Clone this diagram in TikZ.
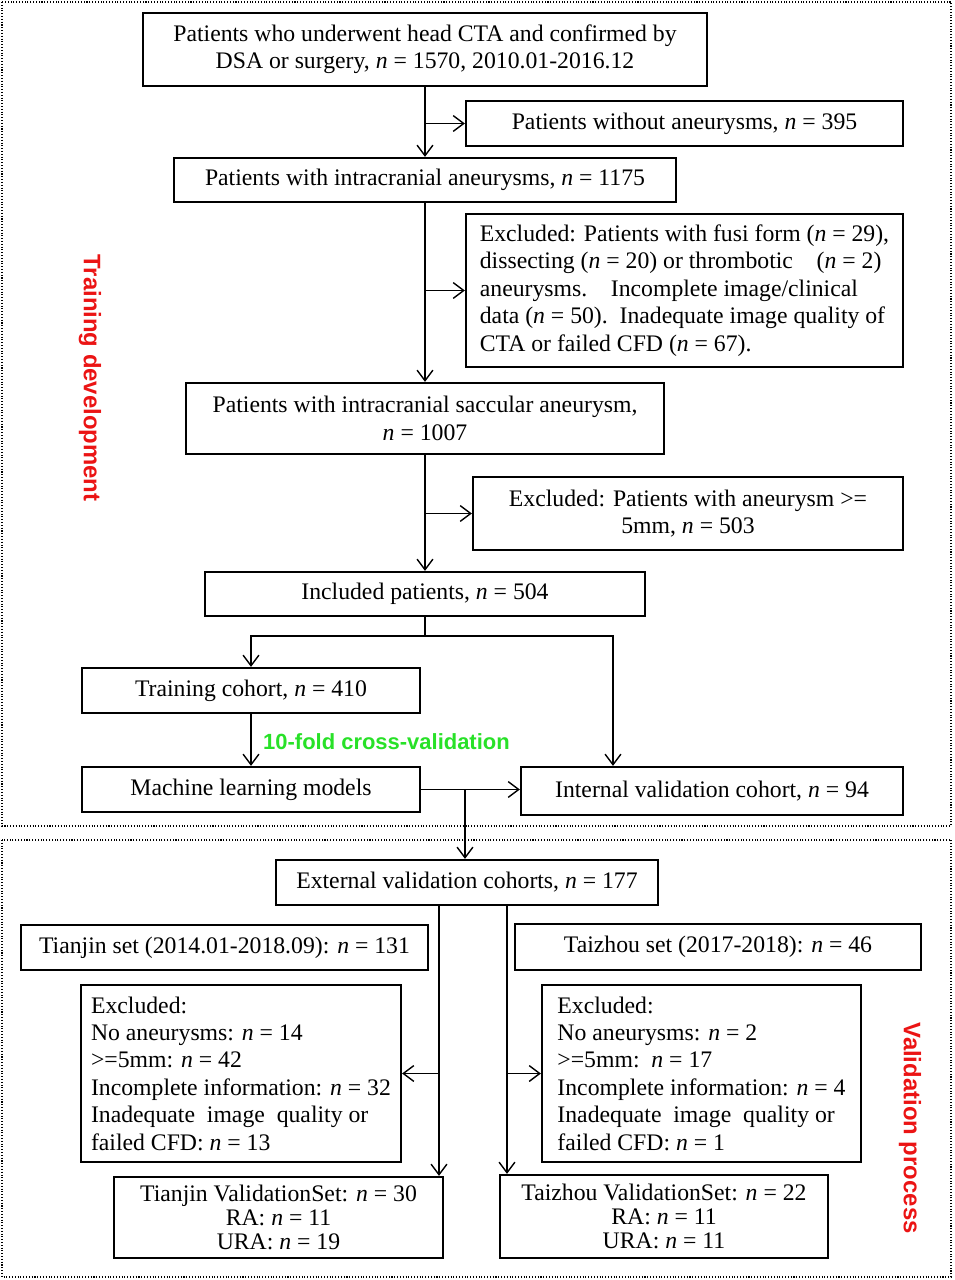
\documentclass[tikz,border=0pt]{standalone}
\usepackage{fontspec}
\setmainfont{Liberation Serif}
\setsansfont{Liberation Sans}
\usetikzlibrary{arrows.meta,positioning}
\newcommand{\nn}{\textit{n}}
\definecolor{trainred}{RGB}{235,20,20}
\definecolor{cvgreen}{RGB}{40,225,40}

\begin{document}
\begin{tikzpicture}[x=0.02cm,y=-0.02cm,>={Straight Barb[length=6pt,width=9pt]},
  font=\fontsize{13.5}{15.6}\selectfont,
  box/.style={draw,line width=1.3pt,align=center,inner sep=2pt},
  note/.style={box,align=left},
  link/.style={line width=0.8pt},
  side/.style={font=\sffamily\bfseries\fontsize{13.6}{16}\selectfont,text=trainred,rotate=-90},
  frame/.style={densely dotted,line width=0.6pt}]
\useasboundingbox (0,0) rectangle (954,1280);
\draw[frame] (2,2) rectangle (951,826);
\draw[frame] (2,840) rectangle (951,1277);
\node[box,minimum width=11.28cm,minimum height=1.46cm] (start) at (425,49.5) {Patients who underwent head CTA and confirmed by\\DSA or surgery, \nn{} = 1570, 2010.01-2016.12};
\node[box,minimum width=8.74cm,minimum height=0.9cm] (noan) at (684.5,123.5) {Patients without aneurysms, \nn{} = 395};
\node[box,minimum width=10.04cm,minimum height=0.88cm] (intra) at (425,180) {Patients with intracranial aneurysms, \nn{} = 1175};
\node[note,minimum width=8.74cm,minimum height=3.06cm] (excl1) at (684.5,290.5) {Excluded: Patients with fusi form (\nn{} = 29),\\dissecting (\nn{} = 20) or thrombotic\quad(\nn{} = 2)\\aneurysms.\quad Incomplete image/clinical\\data (\nn{} = 50).\ \ Inadequate image quality of\\CTA or failed CFD (\nn{} = 67).};
\node[box,minimum width=9.56cm,minimum height=1.42cm] (sacc) at (425,418.5) {Patients with intracranial saccular aneurysm,\\\nn{} = 1007};
\node[box,minimum width=8.6cm,minimum height=1.46cm] (excl2) at (688,513.5) {Excluded: Patients with aneurysm >=\\5mm, \nn{} = 503};
\node[box,minimum width=8.8cm,minimum height=0.88cm] (incl) at (425,594) {Included patients, \nn{} = 504};
\node[box,minimum width=6.76cm,minimum height=0.9cm] (train) at (251,690.5) {Training cohort, \nn{} = 410};
\node[box,minimum width=6.76cm,minimum height=0.9cm] (model) at (251,789.5) {Machine learning models};
\node[box,minimum width=7.64cm,minimum height=0.96cm] (intval) at (712,791) {Internal validation cohort, \nn{} = 94};
\node[box,minimum width=7.64cm,minimum height=0.9cm] (extval) at (467,882.5) {External validation cohorts, \nn{} = 177};
\node[box,minimum width=8.14cm,minimum height=0.9cm] (tjset) at (224.5,947.5) {Tianjin set (2014.01-2018.09): \nn{} = 131};
\node[box,minimum width=8.12cm,minimum height=0.92cm] (tzset) at (718,947) {Taizhou set (2017-2018): \nn{} = 46};
\node[note,minimum width=6.4cm,minimum height=3.54cm] (tjexcl) at (241,1073.5) {Excluded:\\No aneurysms: \nn{} = 14\\>=5mm: \nn{} = 42\\Incomplete information: \nn{} = 32\\Inadequate\ \ image\ \ quality or\\failed CFD: \nn{} = 13};
\node[note,minimum width=6.38cm,minimum height=3.54cm] (tzexcl) at (701.5,1073.5) {Excluded:\\No aneurysms: \nn{} = 2\\>=5mm:\ \ \nn{} = 17\\Incomplete information: \nn{} = 4\\Inadequate\ \ image\ \ quality or\\failed CFD: \nn{} = 1};
\node[box,minimum width=6.58cm,minimum height=1.62cm,font=\fontsize{13.5}{13.6}\selectfont] (tjval) at (278.5,1217.5) {Tianjin ValidationSet: \nn{} = 30\\RA: \nn{} = 11\\URA: \nn{} = 19};
\node[box,minimum width=6.56cm,minimum height=1.66cm,font=\fontsize{13.5}{13.6}\selectfont] (tzval) at (664,1216.5) {Taizhou ValidationSet: \nn{} = 22\\RA: \nn{} = 11\\URA: \nn{} = 11};
\node[side] (trainlab) at (90,378) {Training development};
\node[side] (vallab) at (910,1128) {Validation process};
\node[font=\sffamily\bfseries\fontsize{12.5}{15}\selectfont,text=cvgreen] (cv) at (386.5,742) {10-fold cross-validation};
\coordinate (split) at (425,636);
\coordinate (rdrop) at (613,636);
\coordinate (join) at (465,789.5);
\coordinate (lsplit) at (439,905);
\coordinate (rsplit) at (507,905);
\draw[link,->] (start.south) -- (intra.north);
\draw[link,->] (start.south |- noan.west) -- (noan.west);
\draw[link,->] (intra.south) -- (sacc.north);
\draw[link,->] (intra.south |- excl1.west) -- (excl1.west);
\draw[link,->] (sacc.south) -- (incl.north);
\draw[link,->] (sacc.south |- excl2.west) -- (excl2.west);
\draw[link] (incl.south) -- (split);
\draw[link,->] (split) -| (train.north);
\draw[link,->] (split) -- (rdrop) -- (rdrop |- intval.north);
\draw[link,->] (train) -- (model);
\draw[link,->] (model.east) -- (model.east -| intval.west);
\draw[link,->] (join) -- (join |- extval.north);
\draw[link,->] (lsplit) -- (lsplit |- tjval.north);
\draw[link,->] (lsplit |- tjexcl.east) -- (tjexcl.east);
\draw[link,->] (rsplit) -- (rsplit |- tzval.north);
\draw[link,->] (rsplit |- tzexcl.west) -- (tzexcl.west);
\end{tikzpicture}
\end{document}
